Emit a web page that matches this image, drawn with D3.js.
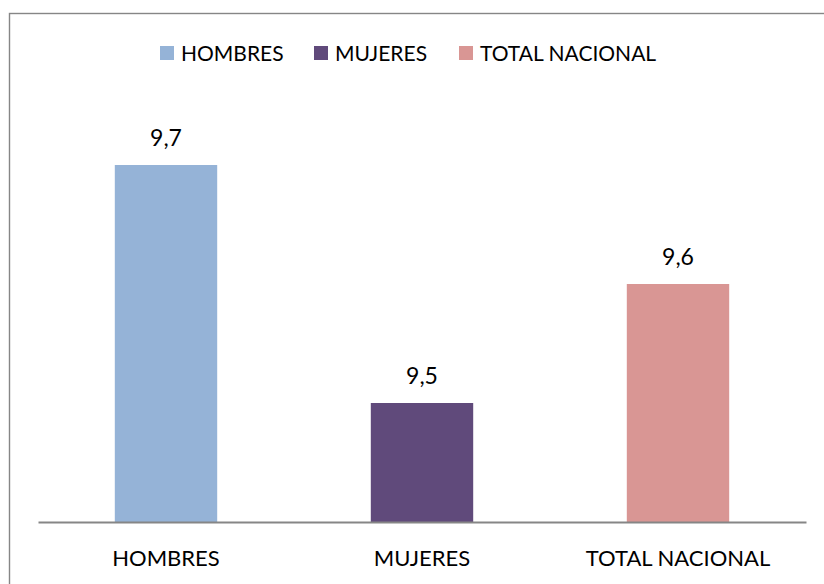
<!DOCTYPE html>
<html>
<head>
<meta charset="utf-8">
<script src="https://cdn.jsdelivr.net/npm/d3@7"></script>
<style>
  body { margin: 0; background: #fff; }
  svg text { font-family: Lato, "Open Sans", sans-serif; fill: #000; }
</style>
</head>
<body>
<svg id="chart" width="824" height="584"></svg>
<script>
var categories = ["HOMBRES", "MUJERES", "TOTAL NACIONAL"];
var values = [9.7, 9.5, 9.6];
var colors = ["#95b3d7", "#604a7b", "#d99694"];
var yTicks = [9.4, 9.8]; // axis min / max (axis itself hidden)

var svg = d3.select("#chart");
var fmt = d3.formatLocale({decimal: ",", thousands: ".", grouping: [3], currency: ["", ""]}).format(".1f");

// outer frame (runs off the right and bottom edge)
svg.append("rect")
  .attr("x", 9.5).attr("y", 13.5)
  .attr("width", 840).attr("height", 600)
  .attr("fill", "none")
  .attr("stroke", "#868686")
  .attr("stroke-width", 1.4);

var plot = {left: 38, right: 806, top: 46, bottom: 522};

var x = d3.scaleBand()
  .domain(categories)
  .range([plot.left, plot.right])
  .paddingInner(0.6)
  .paddingOuter(0.3);

var y = d3.scaleLinear()
  .domain([yTicks[0], yTicks[1]])
  .range([plot.bottom, plot.top]);

var data = categories.map(function(c, i) { return {cat: c, value: values[i], color: colors[i]}; });

svg.selectAll("rect.bar")
  .data(data)
  .enter().append("rect")
  .attr("class", "bar")
  .attr("x", function(d) { return x(d.cat); })
  .attr("width", x.bandwidth())
  .attr("y", function(d) { return y(d.value); })
  .attr("height", function(d) { return plot.bottom - y(d.value); })
  .attr("fill", function(d) { return d.color; });

// value labels
svg.selectAll("text.val")
  .data(data)
  .enter().append("text")
  .attr("class", "val")
  .attr("x", function(d) { return x(d.cat) + x.bandwidth() / 2; })
  .attr("y", function(d) { return y(d.value) - 19; })
  .attr("text-anchor", "middle")
  .style("font-size", "23px")
  .text(function(d) { return fmt(d.value); });

// x axis
var xAxis = svg.append("g")
  .attr("transform", "translate(0," + plot.bottom + ")")
  .call(d3.axisBottom(x).tickSize(0).tickPadding(0));
xAxis.select(".domain").attr("stroke", "#868686").attr("stroke-width", 2);
xAxis.selectAll("text")
  .attr("y", 44)
  .attr("dy", null)
  .style("font-size", "22px")
  .style("font-family", "Lato, 'Open Sans', sans-serif")
  .attr("fill", "#000");

// legend
var legendX = [160, 314, 459];
var leg = svg.selectAll("g.leg")
  .data(data)
  .enter().append("g")
  .attr("class", "leg")
  .attr("transform", function(d, i) { return "translate(" + legendX[i] + ",46)"; });
leg.append("rect")
  .attr("width", 14).attr("height", 14)
  .attr("fill", function(d) { return d.color; });
leg.append("text")
  .attr("x", 21).attr("y", 15)
  .style("font-size", "21px")
  .text(function(d) { return d.cat; });
</script>
</body>
</html>
